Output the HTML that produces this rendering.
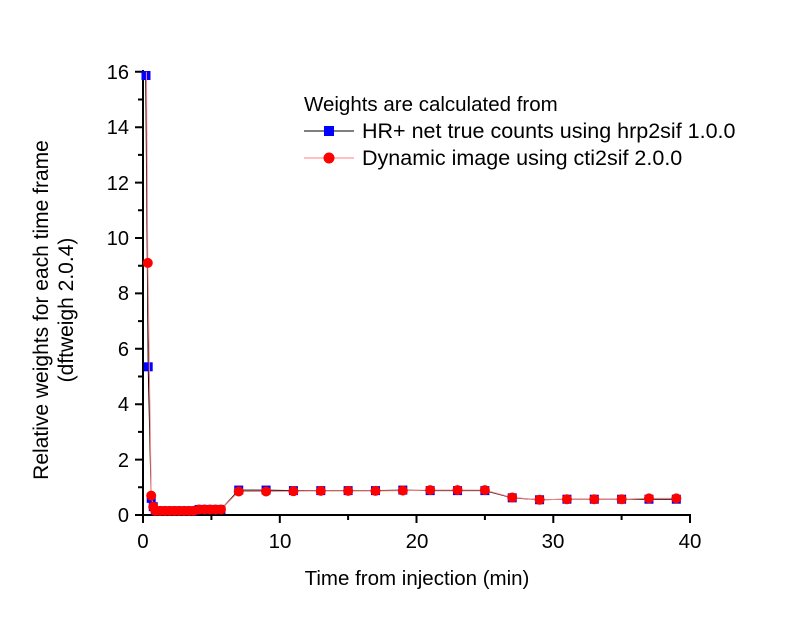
<!DOCTYPE html>
<html><head><meta charset="utf-8"><style>
body{margin:0;background:#fff}
svg{display:block;font-family:"Liberation Sans",Arial,sans-serif}
</style></head><body>
<svg id="s" width="800" height="617" viewBox="0 0 800 617" xmlns="http://www.w3.org/2000/svg">
<rect width="800" height="617" fill="#fff"/>
<g stroke="#000" stroke-width="2" fill="none">
<line x1="143" y1="70" x2="143" y2="516"/>
<line x1="142" y1="515" x2="691" y2="515"/>
<path d="M143 515h-8M143 459.6h-8M143 404.2h-8M143 348.8h-8M143 293.4h-8M143 238h-8M143 182.6h-8M143 127.2h-8M143 71.8h-8"/>
<path d="M143 487.3h-5M143 431.9h-5M143 376.5h-5M143 321.1h-5M143 265.7h-5M143 210.3h-5M143 154.9h-5M143 99.5h-5"/>
<path d="M143 515v8M279.8 515v8M416.5 515v8M553.3 515v8M690 515v8"/>
<path d="M211.4 515v5M348.1 515v5M484.9 515v5M621.6 515v5"/>
</g>
<g font-size="20" text-anchor="end">
<text x="129" y="522">0</text><text x="129" y="467">2</text><text x="129" y="411">4</text><text x="129" y="356">6</text><text x="129" y="300">8</text><text x="129" y="245">10</text><text x="129" y="190">12</text><text x="129" y="134">14</text><text x="129" y="79">16</text>
</g>
<g font-size="20.5" text-anchor="middle">
<text x="143" y="548">0</text><text x="280" y="548">10</text><text x="417" y="548">20</text><text x="553" y="548">30</text><text x="690" y="548">40</text>
<text x="417" y="585">Time from injection (min)</text>
</g>
<g font-size="21" text-anchor="middle">
<text transform="translate(48,310) rotate(-90)">Relative weights for each time frame</text>
<text transform="translate(73,310) rotate(-90)">(dftweigh 2.0.4)</text>
</g>
<g id="d"></g>
<g font-size="20.5">
<text x="304" y="111">Weights are calculated from</text>
<line x1="304" y1="131" x2="354" y2="131" stroke="#000" stroke-width="1"/>
<rect x="324" y="126" width="10" height="10" fill="#0000ff"/>
<text x="362" y="138" font-size="21.5">HR+ net true counts using hrp2sif 1.0.0</text>
<line x1="304" y1="158" x2="354" y2="158" stroke="#ff8080" stroke-width="1"/>
<circle cx="329" cy="158" r="5.5" fill="#ff0000"/>
<text x="362" y="165" font-size="21.5">Dynamic image using cti2sif 2.0.0</text>
</g>
</svg>
<script>
var X=t=>143+t*13.675,Y=v=>515-v*27.7;
var b=[[0.2,15.8],[0.38,5.35],[0.6,0.6],[0.75,0.3]],r=[[0.25,16],[0.35,9.1],[0.6,0.7],[0.75,0.3]];
for(var t=0.9;t<4;t+=0.35){b.push([t,0.15]);r.push([t,0.15]);}
for(var t=4.1;t<6;t+=0.4){b.push([t,0.2]);r.push([t,0.2]);}
var late=[[7,0.9,0.85],[9,0.9,0.85],[11,0.88,0.86],[13,0.88,0.87],[15,0.88,0.87],[17,0.88,0.87],[19,0.9,0.88],[21,0.88,0.9],[23,0.88,0.9],[25,0.88,0.9],[27,0.62,0.63],[29,0.55,0.55],[31,0.57,0.57],[33,0.57,0.57],[35,0.57,0.57],[37,0.57,0.6],[39,0.57,0.6]];
late.forEach(a=>{b.push([a[0],a[1]]);r.push([a[0],a[2]]);});
var h='';
h+='<polyline fill="none" stroke="#000" stroke-width="1" points="'+b.map(p=>X(p[0])+','+Y(p[1])).join(' ')+'"/>';
b.forEach(p=>{if(p[0]>0.3)h+='<rect x="'+(X(p[0])-4.5)+'" y="'+(Y(p[1])-4.5)+'" width="9" height="9" fill="#0000ff"/>';});
h+='<rect x="141.5" y="71" width="9" height="9" fill="#0000ff"/>';
h+='<polyline fill="none" stroke="#ff8080" stroke-width="1" points="'+r.map(p=>X(p[0])+','+Y(p[1])).join(' ')+'"/>';
r.forEach(p=>{if(p[0]>0.3)h+='<circle cx="'+X(p[0])+'" cy="'+Y(p[1])+'" r="5" fill="#ff0000"/>';});
document.getElementById('d').innerHTML=h;
</script>
</body></html>
